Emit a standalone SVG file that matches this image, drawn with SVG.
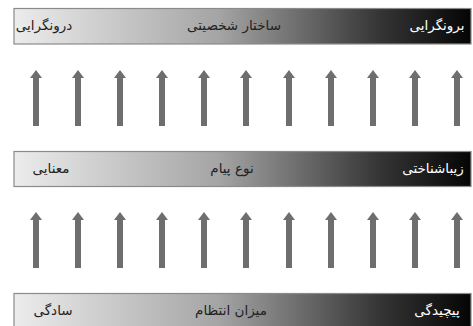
<svg xmlns="http://www.w3.org/2000/svg" width="473" height="326" viewBox="0 0 473 326">
<style>
.bar{fill:url(#g);stroke:#8a8a8a;stroke-width:1.2}
.t{font-family:"DejaVu Sans",sans-serif;font-size:13.5px;text-anchor:middle}
.d{fill:#222}
.w{fill:#fff}
.arr{fill:#6e6e6e}
</style>
<defs>
<linearGradient id="g" x1="0" y1="0" x2="1" y2="0">
<stop offset="0" stop-color="#ececec"/>
<stop offset="0.45" stop-color="#a4a4a4"/>
<stop offset="0.8" stop-color="#353535"/>
<stop offset="1" stop-color="#050505"/>
</linearGradient>
<g id="a"><path d="M-3 56 V8 H-6 L0 0 L6 8 H3 V56 Z"/></g>
</defs>
<rect width="473" height="326" fill="#fff"/>
<g id="bar-top">
<rect class="bar" x="14" y="8.5" width="457" height="35.5"/>
<text class="t d" x="44" y="30">درونگرایی</text>
<text class="t d" x="234" y="30">ساختار شخصیتی</text>
<text class="t w" x="437" y="30">برونگرایی</text>
</g>
<g id="bar-mid">
<rect class="bar" x="14" y="151.5" width="457" height="35"/>
<text class="t d" x="51" y="173">معنایی</text>
<text class="t d" x="232" y="173">نوع پیام</text>
<text class="t w" x="433" y="173">زیباشناختی</text>
</g>
<g id="bar-bot">
<rect class="bar" x="14" y="293.5" width="457" height="36"/>
<text class="t d" x="53" y="315">سادگی</text>
<text class="t d" x="231" y="315">میزان انتظام</text>
<text class="t w" x="437" y="315">پیچیدگی</text>
</g>
<g id="connectors" class="arr">
<use href="#a" x="36" y="70"/><use href="#a" x="78" y="70"/><use href="#a" x="120" y="70"/><use href="#a" x="162" y="70"/><use href="#a" x="204" y="70"/><use href="#a" x="246" y="70"/><use href="#a" x="289" y="70"/><use href="#a" x="331" y="70"/><use href="#a" x="373" y="70"/><use href="#a" x="415" y="70"/><use href="#a" x="457" y="70"/>
<use href="#a" x="36" y="212"/><use href="#a" x="78" y="212"/><use href="#a" x="120" y="212"/><use href="#a" x="162" y="212"/><use href="#a" x="204" y="212"/><use href="#a" x="246" y="212"/><use href="#a" x="289" y="212"/><use href="#a" x="331" y="212"/><use href="#a" x="373" y="212"/><use href="#a" x="415" y="212"/><use href="#a" x="457" y="212"/>
</g>
</svg>
